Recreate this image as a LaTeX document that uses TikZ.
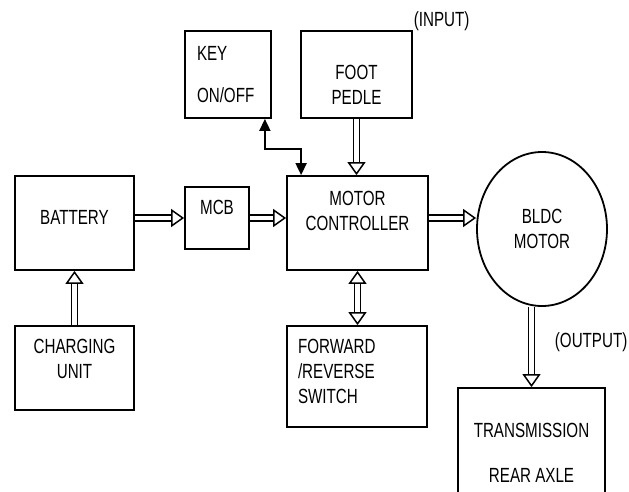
\documentclass[tikz,border=0pt]{standalone}
\usepackage{fontspec}
\setmainfont[FakeStretch=0.74]{Liberation Sans}
\usetikzlibrary{shapes.geometric, positioning, arrows.meta, calc}

\begin{document}
\begin{tikzpicture}[
    x=1pt, y=-1pt,
    line width=1.8pt,
    font=\fontsize{20.5}{25}\selectfont,
    block/.style={draw, rectangle, align=center, inner sep=0pt},
    motor/.style={draw, ellipse, align=center, inner sep=0pt},
    lift/.style 2 args={text height=#1, text depth=#2},
    tag/.style={inner sep=0pt},
    power/.style={double, double distance=4.5pt, line width=1.5pt, -{Triangle[open, length=13pt, width=18pt]}},
    powerboth/.style={power, {Triangle[open, length=13pt, width=18pt]}-{Triangle[open, length=13pt, width=18pt]}},
    signal/.style={line width=1.8pt, {Triangle[length=12pt, width=11pt]}-{Triangle[length=12pt, width=11pt]}}
]
    \path[use as bounding box, clip] (0,0) rectangle (629,491);

    % ===== blocks =====
    \node[block, minimum width=86pt, minimum height=87pt, text width=62pt, align=left] (key) at (228,74.5) {KEY\\[17pt]ON/OFF};
    \node[block, minimum width=111pt, minimum height=87pt, lift={59pt}{0pt}] (foot) at (356.5,74.5) {FOOT\\PEDLE};
    \node[block, minimum width=119pt, minimum height=94pt, lift={15pt}{12pt}] (battery) at (74.5,223) {BATTERY};
    \node[block, minimum width=64pt, minimum height=62pt, lift={15pt}{22pt}] (mcb) at (217,218) {MCB};
    \node[block, minimum width=141pt, minimum height=94pt, lift={40pt}{26pt}] (mc) at (357.5,223) {MOTOR\\CONTROLLER};
    \node[motor, minimum width=130pt, minimum height=154pt] (bldc) at (542,229) {BLDC\\MOTOR};
    \node[block, minimum width=119pt, minimum height=84pt, lift={40pt}{20pt}] (charger) at (74.5,368) {CHARGING\\UNIT};
    \node[block, minimum width=140pt, minimum height=101pt, text width=118pt, align=left, lift={15pt}{62pt}] (fr) at (357,376.5) {FORWARD\\/REVERSE\\SWITCH};
    \node[block, minimum width=147pt, minimum height=129pt] (trans) at (531.5,452.5) {TRANSMISSION\\[20pt]REAR AXLE};

    % ===== input / output tags =====
    \node[tag, anchor=south west] (intag) at ($(foot.north east)+(0,2)$) {(INPUT)};
    \node[tag, anchor=west] (outtag) at (554,342) {(OUTPUT)};

    % ===== power flow =====
    \draw[power] (battery.east |- mcb.west) -- (mcb.west);
    \draw[power] (mcb.east) -- (mcb.east -| mc.west);
    \draw[power] (mc.east |- mcb.east) -- (mcb.east -| bldc.west);
    \draw[power] (foot.south) -- (foot.south |- mc.north);
    \draw[power] (charger.north) -- (battery.south);
    \draw[powerboth] (mc.south) -- (mc.south |- fr.north);
    \draw[power] (trans.north |- bldc.south) -- (trans.north);

    % ===== key switch line =====
    \draw[signal] ($(key.south east)+(-7,0)$) -- ++(0,30) -| ($(mc.north west)+(15,0)$);
\end{tikzpicture}
\end{document}
